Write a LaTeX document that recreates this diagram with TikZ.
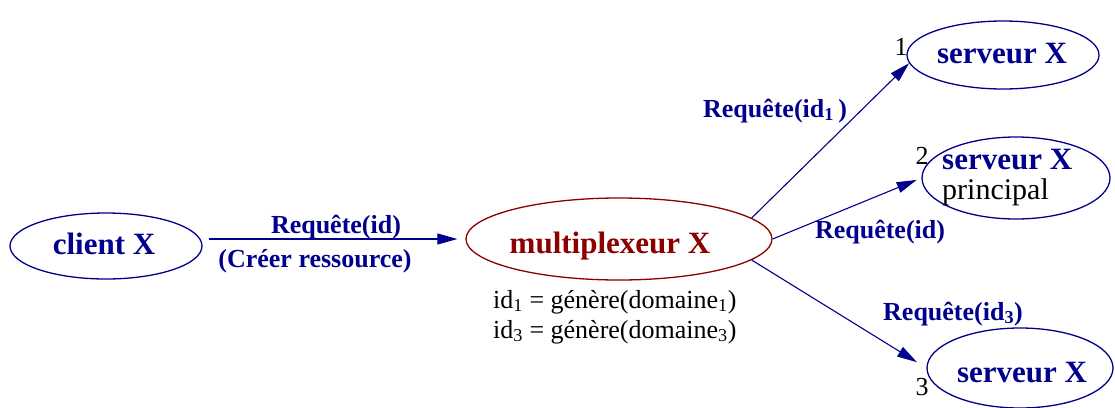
\documentclass[tikz,border=0pt]{standalone}
\usepackage{fontspec}
\setmainfont{Liberation Serif}
\usetikzlibrary{shapes.geometric,arrows.meta}
\definecolor{navy}{RGB}{0,0,140}
\definecolor{dred}{RGB}{140,0,0}
\tikzset{
  ell/.style={ellipse, draw=navy, line width=1.3pt, inner sep=0pt},
  big/.style={font=\fontsize{31}{23}\selectfont\bfseries, text=navy, inner sep=0pt},
  lab/.style={font=\fontsize{26}{30}\selectfont\bfseries, text=navy, inner sep=0pt, anchor=base},
  plain/.style={font=\fontsize{26}{30}\selectfont, text=black, inner sep=0pt, anchor=base},
  conn/.style={draw=navy, line width=1.1pt, -{Triangle[length=20pt,width=11pt]}}
}
\begin{document}
\begin{tikzpicture}[x=1pt,y=-1pt]
\useasboundingbox (0,0) rectangle (1115,407);
% ellipses
\node[ell, minimum width=192pt, minimum height=66pt] (client) at (106,246) {};
\node[ell, draw=dred, minimum width=306pt, minimum height=82pt] (mux) at (619,239) {};
\node[ell, minimum width=192pt, minimum height=68pt] (s1) at (1003,55) {};
\node[ell, minimum width=188pt, minimum height=82pt] (s2) at (1016,178) {};
\node[ell, minimum width=186pt, minimum height=80pt] (s3) at (1020,368) {};
% node texts
\node[big, anchor=base] (clientt) at (104,254) {client X};
\node[big, anchor=base, text=dred] (muxt) at (610,253) {multiplexeur X};
\node[big, anchor=base] (s1t) at (1002,63) {serveur X};
\node[big, anchor=base west] (s2t) at (942,169) {serveur X};
\node[big, anchor=base west, font=\fontsize{30}{23}\selectfont, text=black] (s2p) at (942,199) {principal};
\node[big, anchor=base] (s3t) at (1022,382) {serveur X};
% numbers
\node[plain] (n1) at (901,55) {1};
\node[plain] (n2) at (922,164) {2};
\node[plain] (n3) at (922,395) {3};
% connectors
\draw[conn, shorten <=6pt, shorten >=8pt] (client.east |- mux.west) -- (mux.west);
\draw[conn] (mux.9) -- (s1.185);
\draw[conn, shorten >=5pt] (mux.east) -- (s2.west);
\draw[conn, shorten >=11pt] (mux.-9) -- (s3.west);
% labels
\node[lab] (l0a) at (336,233) {Requête(id)};
\node[lab] (l0b) at (315,267) {(Créer ressource)};
\node[lab] (l1) at (775,117) {Requête(id\textsubscript{1}\,)};
\node[lab] (l2) at (880,238) {Requête(id)};
\node[lab] (l3) at (953,320) {Requête(id\textsubscript{3})};
\node[plain, anchor=base west] (g1) at (493,308) {id\textsubscript{1} = génère(domaine\textsubscript{1})};
\node[plain, anchor=base west] (g3) at (493,338) {id\textsubscript{3} = génère(domaine\textsubscript{3})};
\end{tikzpicture}
\end{document}
